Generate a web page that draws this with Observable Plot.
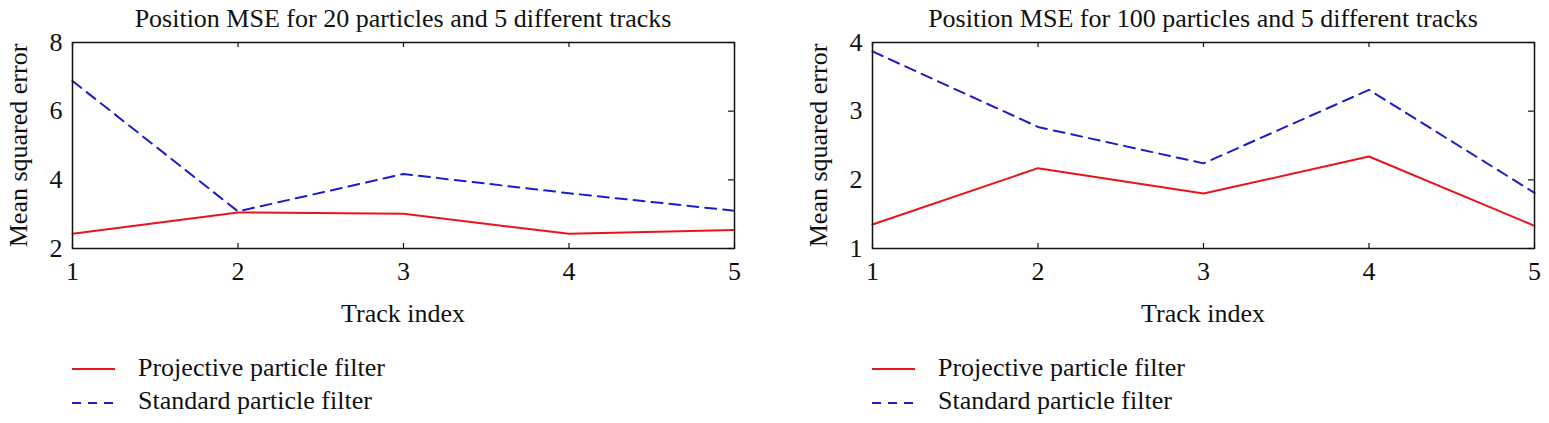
<!DOCTYPE html>
<html>
<head>
<meta charset="utf-8">
<script src="https://cdn.jsdelivr.net/npm/d3@7"></script>
<script src="https://cdn.jsdelivr.net/npm/@observablehq/plot@0.6"></script>
<style>
  body { margin: 0; background: #fff; }
  #root { position: relative; width: 1549px; height: 423px; background: #fff; font-family: "Liberation Serif", "DejaVu Serif", serif; color: #111; }
  .abs { position: absolute; white-space: nowrap; font-size: 26px; line-height: 26px; }
  .title { text-align: center; }
</style>
</head>
<body>
<div id="root"></div>
<script>
// ---- data ----
const tracks = [1, 2, 3, 4, 5];
const projective20 = [2.43, 3.05, 3.01, 2.43, 2.54];
const standard20 = [6.88, 3.08, 4.17, 3.61, 3.10];
const projective100 = [1.35, 2.17, 1.80, 2.34, 1.33];
const standard100 = [3.87, 2.77, 2.24, 3.31, 1.81];
const yTicks20 = [2, 4, 6, 8];
const yTicks100 = [1, 2, 3, 4];
const titles = ["Position MSE for 20 particles and 5 different tracks",
                "Position MSE for 100 particles and 5 different tracks"];
const xLabel = "Track index";
const yLabel = "Mean squared error";
const seriesNames = ["Projective particle filter", "Standard particle filter"];

const RED = "#e8141c", BLUE = "#1c1cc8";
const DASH = "11,7";
const root = document.getElementById("root");

function panel(ox, title, proj, std, yDomain, yTicks) {
  const W = 775, H = 330, mL = 72, mR = 41, mT = 42, mB = 82;
  const frameH = H - mT - mB, frameW = W - mL - mR;
  const projData = tracks.map((t, i) => ({t, v: proj[i]}));
  const stdData = tracks.map((t, i) => ({t, v: std[i]}));
  const chart = Plot.plot({
    width: W, height: H,
    marginLeft: mL, marginRight: mR, marginTop: mT, marginBottom: mB,
    style: {fontFamily: "Liberation Serif, DejaVu Serif, serif", fontSize: "26px", color: "#111", background: "transparent"},
    x: {domain: [1, 5]},
    y: {domain: yDomain},
    marks: [
      Plot.axisX(tracks, {anchor: "bottom", tickSize: 0, tickPadding: 13, label: null, tickFormat: d => String(d)}),
      Plot.axisY(yTicks, {anchor: "left", tickSize: 0, tickPadding: 10, label: yLabel, labelAnchor: "center", labelArrow: "none", labelOffset: 64, tickFormat: d => String(d)}),
      Plot.tickX(tracks, {x: d => d, stroke: "#111", strokeWidth: 1.2, insetTop: frameH - 5}),
      Plot.tickX(tracks, {x: d => d, stroke: "#111", strokeWidth: 1.2, insetBottom: frameH - 5}),
      Plot.tickY(yTicks, {y: d => d, stroke: "#111", strokeWidth: 1.2, insetLeft: frameW - 6}),
      Plot.line(projData, {x: "t", y: "v", stroke: RED, strokeWidth: 2}),
      Plot.line(stdData, {x: "t", y: "v", stroke: BLUE, strokeWidth: 2, strokeDasharray: DASH}),
      Plot.frame({stroke: "#111", strokeWidth: 1.5})
    ]
  });
  chart.style.position = "absolute";
  chart.style.left = ox + "px";
  chart.style.top = "0px";
  root.appendChild(chart);

  const t = document.createElement("div");
  t.className = "abs title";
  t.style.left = (ox + mL) + "px"; t.style.width = frameW + "px"; t.style.top = "6px";
  t.textContent = title;
  root.appendChild(t);

  const xl = document.createElement("div");
  xl.className = "abs title";
  xl.style.left = (ox + mL) + "px"; xl.style.width = frameW + "px"; xl.style.top = "301px";
  xl.textContent = xLabel;
  root.appendChild(xl);

  // legend
  const rows = [{name: seriesNames[0], color: RED, dash: null, y: 369, top: 355},
                {name: seriesNames[1], color: BLUE, dash: DASH, y: 403, top: 388}];
  const svgNS = "http://www.w3.org/2000/svg";
  const lg = document.createElementNS(svgNS, "svg");
  lg.setAttribute("width", 60); lg.setAttribute("height", 423);
  lg.style.position = "absolute"; lg.style.left = (ox + 60) + "px"; lg.style.top = "0px";
  for (const r of rows) {
    const ln = document.createElementNS(svgNS, "line");
    ln.setAttribute("x1", 12); ln.setAttribute("x2", 55);
    ln.setAttribute("y1", r.y); ln.setAttribute("y2", r.y);
    ln.setAttribute("stroke", r.color); ln.setAttribute("stroke-width", 2);
    if (r.dash) ln.setAttribute("stroke-dasharray", "9,7");
    lg.appendChild(ln);
    const tx = document.createElement("div");
    tx.className = "abs";
    tx.style.left = (ox + 138) + "px"; tx.style.top = r.top + "px";
    tx.textContent = r.name;
    root.appendChild(tx);
  }
  root.appendChild(lg);
}

panel(0, titles[0], projective20, standard20, [2, 8], yTicks20);
panel(800, titles[1], projective100, standard100, [1, 4], yTicks100);
</script>
</body>
</html>
